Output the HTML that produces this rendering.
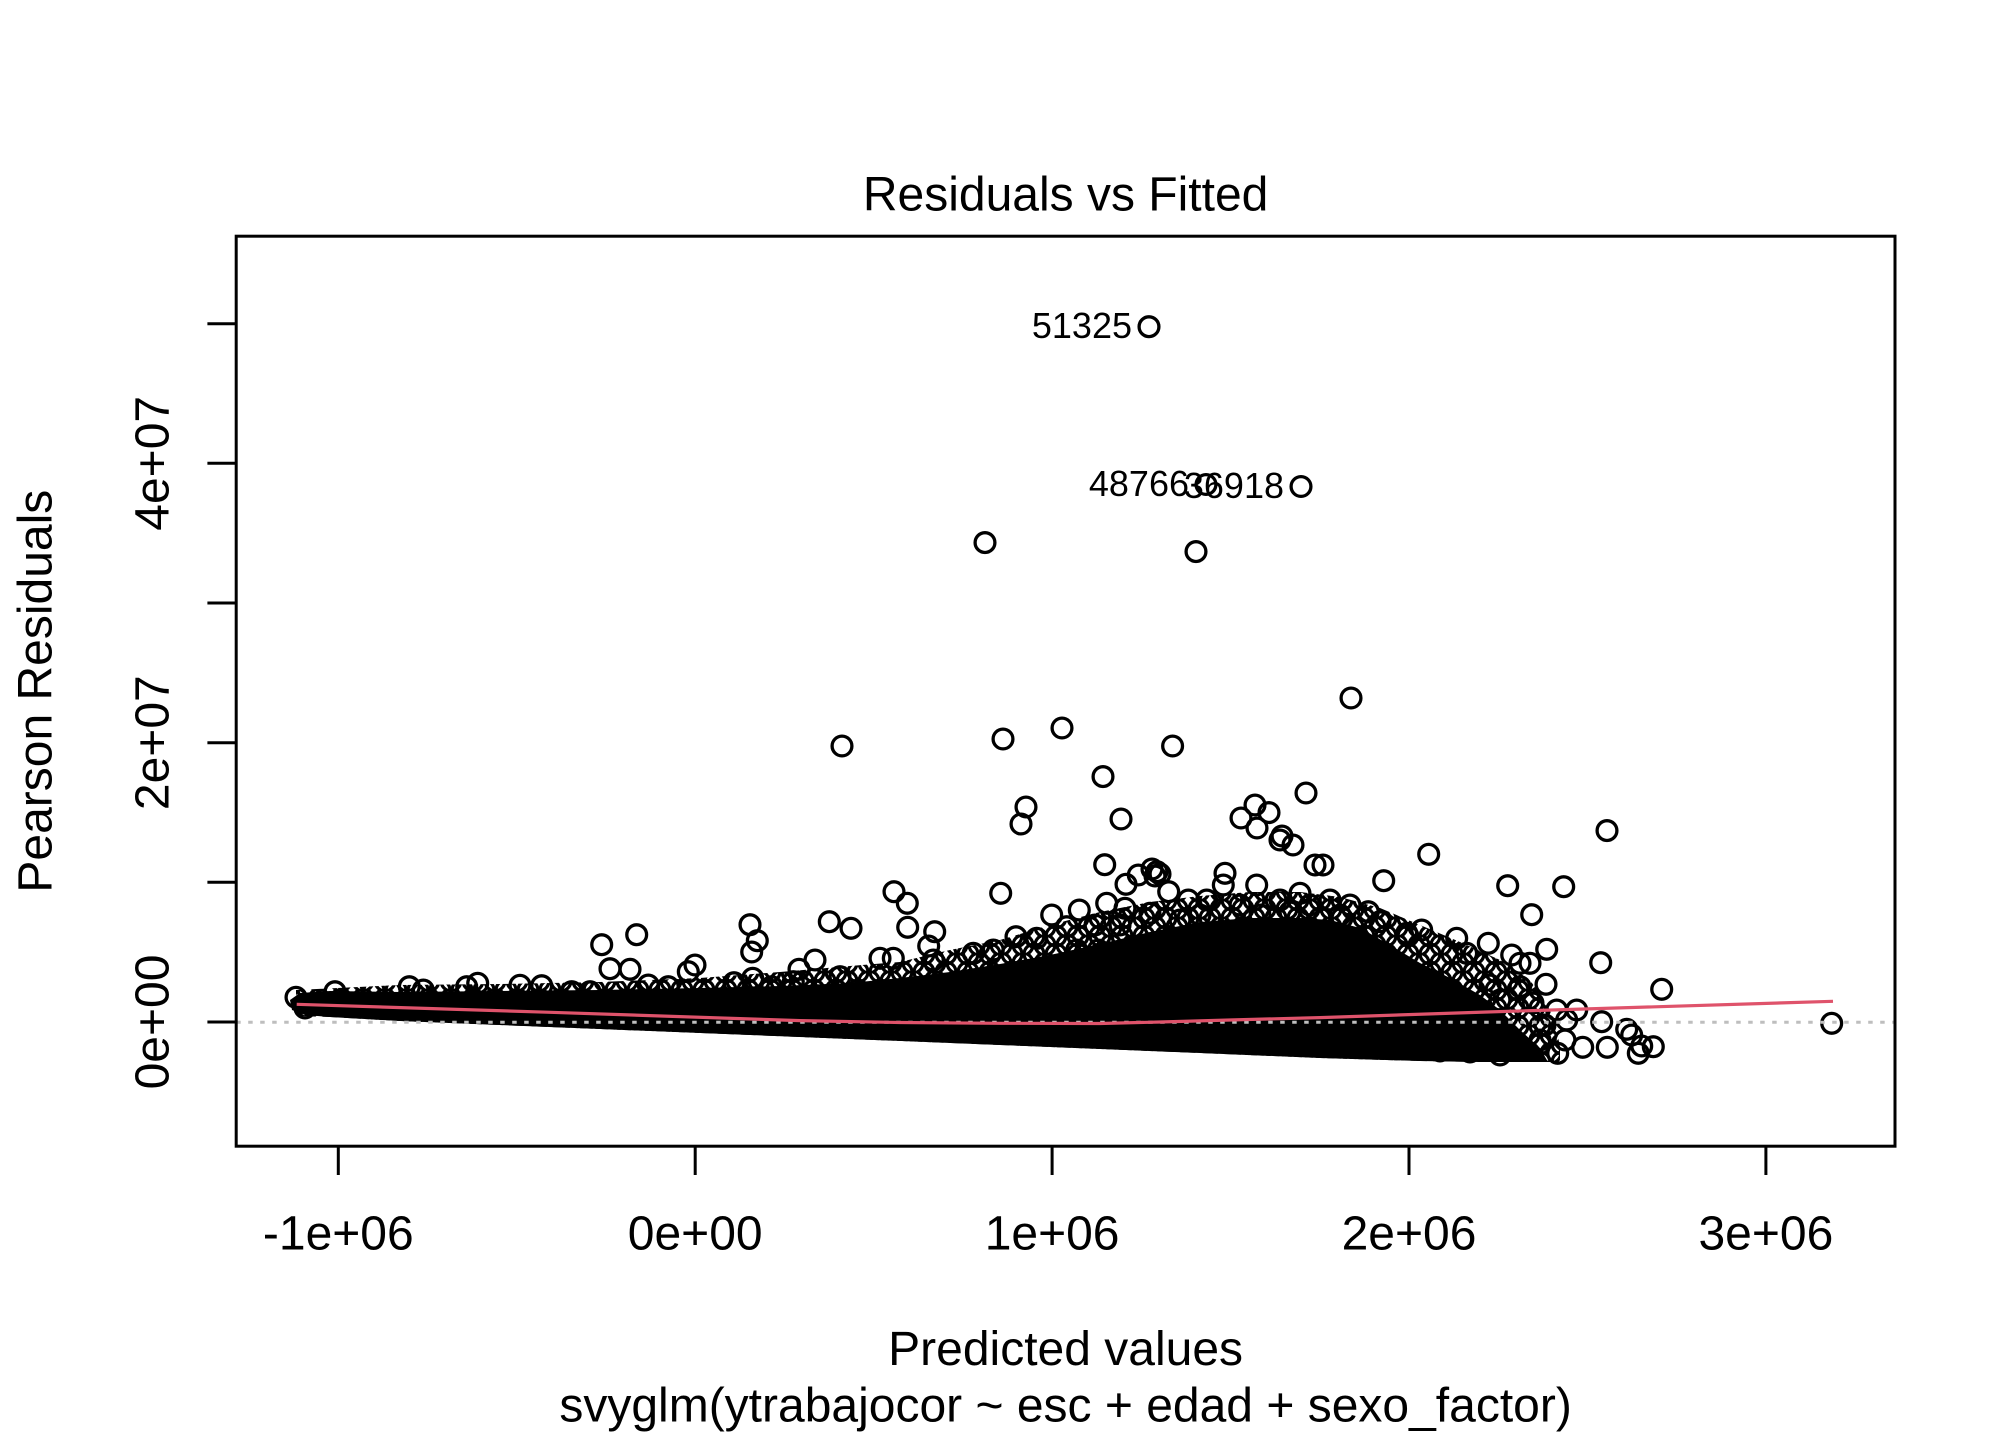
<!DOCTYPE html>
<html>
<head>
<meta charset="utf-8">
<style>
html,body{margin:0;padding:0;background:#fff;}
svg{display:block;}
text{font-family:"Liberation Sans",Arial,sans-serif;fill:#000;}
</style>
</head>
<body>
<svg width="2016" height="1440" viewBox="0 0 2016 1440" xmlns="http://www.w3.org/2000/svg">
<defs>
<pattern id="rings" patternUnits="userSpaceOnUse" width="22" height="18">
<g fill="none" stroke="#000" stroke-width="3.3">
<circle cx="0" cy="0" r="9.9"/>
<circle cx="22" cy="0" r="9.9"/>
<circle cx="0" cy="18" r="9.9"/>
<circle cx="22" cy="18" r="9.9"/>
<circle cx="11" cy="9" r="9.9"/>
</g>
</pattern>
<marker id="pt" markerWidth="26" markerHeight="26" refX="13" refY="13" markerUnits="userSpaceOnUse" overflow="visible">
<circle cx="13" cy="13" r="9.9" fill="none" stroke="#000" stroke-width="3.3"/>
</marker>
<clipPath id="plotclip"><rect x="236.2" y="236.2" width="1658.8" height="910"/></clipPath>
</defs>
<rect width="2016" height="1440" fill="#fff"/>

<text x="1065.6" y="210.7" font-size="48" text-anchor="middle">Residuals vs Fitted</text>

<g clip-path="url(#plotclip)">
<polygon fill="url(#rings)" points="296,990 400,985 500,984 600,982 700,978 780,972 850,966 900,962 950,950 1000,940 1050,925 1100,912 1150,902 1200,896 1250,892 1300,892 1340,897 1380,908 1420,925 1460,942 1500,960 1530,980 1550,1010 1560,1045 1560,1062 1480,1062 1420,1061 1320,1058 1200,1053 1000,1045 800,1037 600,1029 400,1021 330,1017 296,1016"/>
<polygon fill="#000" points="290,1000 300,993 330,991 400,992 500,991 600,990 700,988 780,986 850,983 900,978 950,972 1000,964 1050,955 1100,944 1150,932 1200,922 1250,918 1300,918 1330,920 1360,928 1390,945 1420,963 1450,978 1480,995 1500,1010 1520,1030 1540,1048 1548,1062 1480,1062 1420,1061 1320,1058 1200,1053 1000,1045 800,1037 600,1029 400,1021 330,1017 305,1015 292,1010"/>

<polyline fill="none" stroke="none" marker-start="url(#pt)" marker-mid="url(#pt)" marker-end="url(#pt)" points="1149,326.7 1206,484.5 1301,486.5 985,542.6 1196,551.6 1351,698 842,746 1003,739 1062,728 1172.6,746 1103,776.6 1306,793 1026,807 1021,824 1121,819 1255,805 1241,818 1269,812.6 1257,828 1282,836 1293,845 1280,840 1607,830.6 1428.7,854.3 1323,865 1104.7,864.7 1157,871.7 1152,869 1160,874 1155,876 1138.3,875 1126,884.3 1168.7,891.7 1225,873.3 1223.3,885 1256.7,885 1315,865 1383.7,880.7 1507.7,885.7 1563.7,886.7 1531.7,914.7 1546.7,949.3 1600.7,962.7 1546,984.3 1661.7,989.3 1831.7,1023.3 894,891.7 907.3,903.3 1000.7,893.3 829.3,921.7 851,928.3 907.7,927.3 934.7,931.7 928.7,946 933.3,960 880,958.3 893.3,958.3 815,960 840,976.7 973.3,953.3 993.3,950 1016,936.7 1036.7,938.3 1051.7,915 1079.3,910 1106.7,903.3 1125,908.3 1095,925 1150,913.3 1188.3,900 1206.7,900 1280,900 1300,893.3 1066.7,926.7 1076.7,950 1098.3,950 1120,925 1200,915 1240,905 1260,915 1290,912 1310,905 1180,920 1330,900 1350,905 601.7,944.7 636.7,934.7 610,968.7 630,969.3 750,924.7 757.3,940.7 751.7,952 695,965 688.3,971.7 799,969.3 409.3,986.7 477.7,983.3 466.7,986.7 520,985.3 541.7,985.7 648.3,985 668.3,986.7 734,982.7 752.7,978.3 771.7,986.7 793.3,981.7 335,991.7 296,997.3 310,1004 320,1003.3 305,1008 423.3,990 571.7,991.7 590,991.7 1340,915 1368.3,911.7 1380,921.7 1421.7,930 1406.7,933.3 1456.7,938.3 1466.7,953.3 1488.3,943.3 1511.7,955 1520,963.3 1530,963.3 1520,986.7 1533,1003 1556.7,1010 1566.7,1020 1576.7,1010 1601.7,1021.7 1626.7,1029.3 1631.7,1035 1641.7,1046 1638.3,1053.3 1653.3,1046.7 1607.3,1047.3 1582.7,1047.3 1557.7,1053.3 1540,1040 1500,1000 1490,985 1545,1025 1565,1040 1520,1050 1500,1055 1470,1052 1440,1051"/>

<line x1="236.2" y1="1022.3" x2="1895" y2="1022.3" stroke="#BEBEBE" stroke-width="3" stroke-dasharray="4.5 7.5"/>
<polyline fill="none" stroke="#DF536B" stroke-width="3.2" points="296.7,1004.3 546.7,1012.2 800,1020.6 900,1022.5 1000,1023.3 1100,1023.5 1160,1022 1230,1020 1320,1017.6 1487,1012 1833,1001.3"/>
</g>

<text x="1132" y="338" font-size="36" text-anchor="end">51325</text>
<text x="1189" y="496" font-size="36" text-anchor="end">48766</text>
<text x="1284" y="498" font-size="36" text-anchor="end">36918</text>

<rect x="236.2" y="236.2" width="1658.8" height="910" fill="none" stroke="#000" stroke-width="3"/>

<path stroke="#000" stroke-width="3" fill="none" d="M338.3 1146.2V1175M695.2 1146.2V1175M1052.1 1146.2V1175M1409 1146.2V1175M1765.9 1146.2V1175M207.4 1022H236.2M207.4 882.3H236.2M207.4 742.7H236.2M207.4 603H236.2M207.4 463.3H236.2M207.4 323.7H236.2"/>

<g font-size="48" text-anchor="middle">
<text x="338.3" y="1249.3">-1e+06</text>
<text x="695.2" y="1249.3">0e+00</text>
<text x="1052.1" y="1249.3">1e+06</text>
<text x="1409" y="1249.3">2e+06</text>
<text x="1765.9" y="1249.3">3e+06</text>
<text transform="translate(168.3,1022) rotate(-90)">0e+00</text>
<text transform="translate(168.3,742.7) rotate(-90)">2e+07</text>
<text transform="translate(168.3,463.3) rotate(-90)">4e+07</text>
<text transform="translate(51.7,691.2) rotate(-90)">Pearson Residuals</text>
<text x="1065.6" y="1365">Predicted values</text>
<text x="1065.6" y="1421.7">svyglm(ytrabajocor ~ esc + edad + sexo_factor)</text>
</g>
</svg>
</body>
</html>
